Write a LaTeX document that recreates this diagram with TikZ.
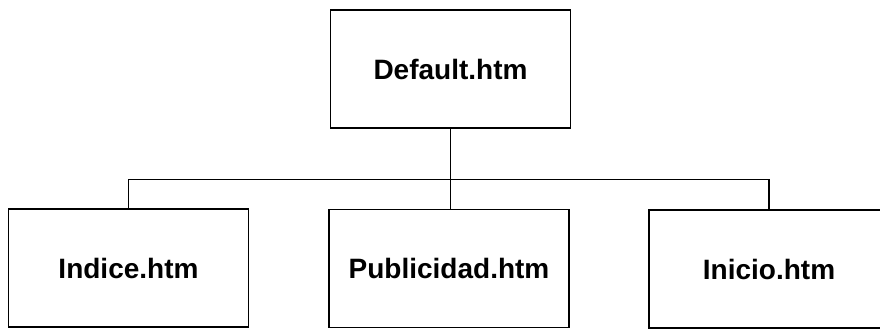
\documentclass[tikz,border=0pt]{standalone}
\usepackage{fontspec}
\setmainfont{Liberation Sans}
\usepackage{tikz}
\usetikzlibrary{calc,positioning}
\tikzset{
pagebox/.style={draw, line width=1.3pt, minimum width=240pt, minimum height=118pt, inner sep=0pt, font=\fontsize{28}{32}\selectfont\bfseries}, % one box per page
link/.style={line width=1.3pt}, % the tree lines
}

\begin{document}
\begin{tikzpicture}[x=1pt,y=1pt,yscale=-1,xscale=1]
\useasboundingbox (0,0) rectangle (880,329);
%Top page
\node[pagebox] (default) at (450.5,69) {Default.htm};
%Bottom pages
\node[pagebox] (indice) at (128.5,268) {Indice.htm};
\node[pagebox] (publicidad) at (449,268.5) {Publicidad.htm};
\node[pagebox] (inicio) at (769,269) {Inicio.htm};
%Straight Lines
\draw[link] (default.south) -- (default.south |- publicidad.north);
\draw[link] (indice.north) -- ++(0,-29) -| (inicio.north);
\end{tikzpicture}
\end{document}
